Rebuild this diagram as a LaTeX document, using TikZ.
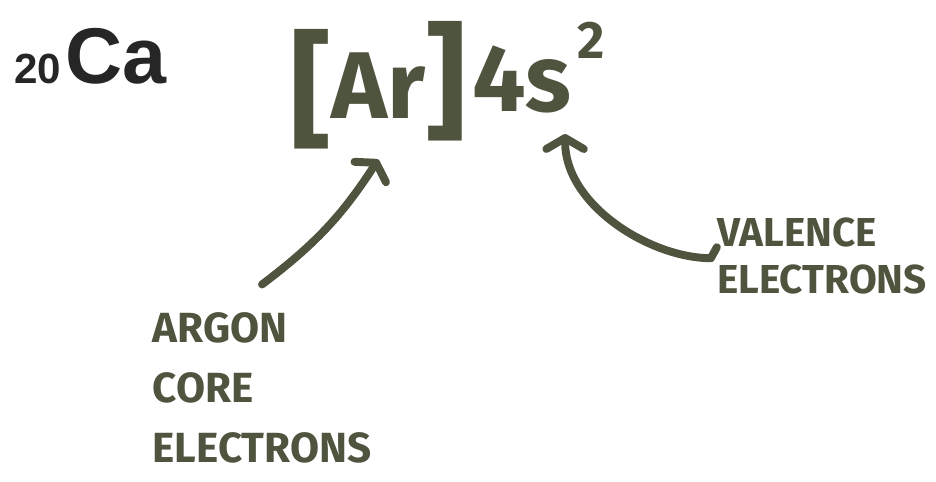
\documentclass[tikz,border=0pt]{standalone}
\usepackage{fontspec}
\setmainfont{Liberation Sans}
\newfontfamily\handfont{Fira Sans}
\usepackage{xcolor}
\usetikzlibrary{arrows.meta,positioning,calc}
\definecolor{ink}{RGB}{78,84,62}
\tikzset{
  symbolbox/.style={anchor=base west, inner sep=0pt, text=black!85},
  handbox/.style={anchor=base west, inner sep=0pt, text=ink},
  notebox/.style={
    inner sep=0pt,
    text=ink,
    align=left,
    font=\handfont\bfseries\fontsize{24}{34}\selectfont
  },
  pen/.style={
    draw=ink,
    line width=4.5pt,
    line cap=round,
    line join=round,
    -{Straight Barb[length=0.22cm,width=0.75cm,round]}
  }
}

\begin{document}
\begin{tikzpicture}[x=0.02cm, y=-0.02cm]
\useasboundingbox (0,0) rectangle (936,481);
\node[symbolbox, font=\bfseries\fontsize{24}{24}\selectfont] (num) at (14,83) {20};
\node[symbolbox, font=\bfseries\fontsize{45}{45}\selectfont] (elem) at ([xshift=2pt]num.base east) {Ca};
\node[handbox, font=\handfont\bfseries\fontsize{54}{54}\selectfont] (core) at (290,118)
  {\raisebox{-0.3cm}{\fontsize{72}{72}\selectfont[}Ar\raisebox{-0.15cm}{\fontsize{72}{72}\selectfont]}};
\node[handbox, font=\handfont\bfseries\fontsize{54}{54}\selectfont] (shell) at (472,111) {4s};
\node[handbox, font=\handfont\bfseries\fontsize{30}{30}\selectfont] (sup) at ([shift={(3pt,1.06cm)}]shell.base east) {2};
\node[notebox] (argon) at (262,388) {ARGON\\CORE\\ELECTRONS};
\node[notebox, font=\handfont\bfseries\fontsize{23}{27}\selectfont] (valence) at (822,256) {VALENCE\\ELECTRONS};

\draw[pen] ([yshift=16pt]argon.north) to[bend right=10] ([yshift=-6pt]core.south);
\draw[pen] ([yshift=5pt]valence.west) -- ++(-6,11) .. controls (650,258) and (565,205) .. ([shift={(-4pt,-12pt)}]shell.south east);
\end{tikzpicture}
\end{document}
